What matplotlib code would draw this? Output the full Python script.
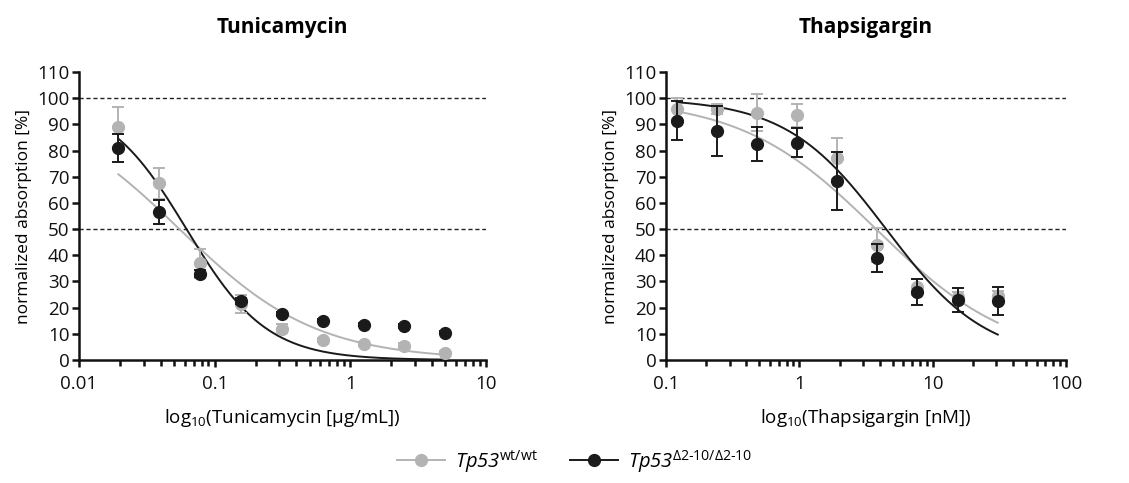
import matplotlib

matplotlib.use("Agg")
import matplotlib.pyplot as plt
import numpy as np
from matplotlib.lines import Line2D
from matplotlib.ticker import FixedLocator, LogLocator, NullFormatter

plt.rcParams["font.family"] = ["Open Sans", "DejaVu Sans"]
plt.rcParams["mathtext.fontset"] = "custom"
plt.rcParams["mathtext.rm"] = "Open Sans"
plt.rcParams["mathtext.it"] = "Open Sans:italic"
plt.rcParams["mathtext.sf"] = "Open Sans:italic"

GRAY = "#b3b3b3"
BLACK = "#1a1a1a"

# Tunicamycin [ug/mL]
tun_x = [0.0195, 0.039, 0.078, 0.156, 0.3125, 0.625, 1.25, 2.5, 5.0]
tun_wt = [89.0, 67.5, 37.0, 21.5, 12.0, 7.5, 6.0, 5.5, 2.8]
tun_wt_err = [7.5, 6.0, 5.5, 3.5, 1.8, 0.8, 0.8, 0.8, 0.5]
tun_dl = [81.0, 56.5, 33.0, 22.5, 17.5, 15.0, 13.5, 13.0, 10.5]
tun_dl_err = [5.5, 4.5, 1.2, 1.0, 0.8, 0.6, 0.6, 0.6, 0.6]
tun_fit_wt = (0.055, 0.862)   # IC50, hill slope
tun_fit_dl = (0.062, 1.47)

# Thapsigargin [nM]
tha_x = [0.12, 0.24, 0.48, 0.96, 1.92, 3.84, 7.68, 15.36, 30.72]
tha_wt = [96.0, 96.0, 94.5, 93.5, 77.0, 44.0, 28.0, 24.0, 24.5]
tha_wt_err = [4.0, 2.0, 7.0, 4.5, 8.0, 6.5, 3.0, 2.0, 2.0]
tha_dl = [91.5, 87.5, 82.5, 83.0, 68.5, 39.0, 26.0, 23.0, 22.5]
tha_dl_err = [7.5, 9.5, 6.5, 5.5, 11.0, 5.5, 5.0, 4.5, 5.5]
tha_fit_wt = (3.76, 0.855)
tha_fit_dl = (4.47, 1.157)

yticks = list(range(0, 111, 10))


def hill(x, ic50, slope):
    return 100.0 / (1.0 + (x / ic50) ** slope)


def panel(ax, x, wt, wt_err, dl, dl_err, fit_wt, fit_dl, xlim, xticks, xticklabels, title, xlabel):
    ax.axhline(100, color="#222222", linestyle=(0, (3, 2)), linewidth=1.0, zorder=1)
    ax.axhline(50, color="#222222", linestyle=(0, (3, 2)), linewidth=1.0, zorder=1)
    xs = np.logspace(np.log10(x[0]), np.log10(x[-1]), 300)
    ax.plot(xs, hill(xs, *fit_wt), color=GRAY, linewidth=1.4, zorder=2)
    ax.plot(xs, hill(xs, *fit_dl), color=BLACK, linewidth=1.4, zorder=3)
    ax.errorbar(x, wt, yerr=wt_err, fmt="o", color=GRAY, ecolor=GRAY, markersize=8.5,
                capsize=4, elinewidth=1.4, capthick=1.4, zorder=4)
    ax.errorbar(x, dl, yerr=dl_err, fmt="o", color=BLACK, ecolor=BLACK, markersize=8.5,
                capsize=4, elinewidth=1.4, capthick=1.4, zorder=5)
    ax.set_xscale("log")
    ax.set_xlim(*xlim)
    ax.set_ylim(0, 110)
    ax.yaxis.set_major_locator(FixedLocator(yticks))
    ax.xaxis.set_major_locator(FixedLocator(xticks))
    ax.set_xticklabels(xticklabels)
    ax.xaxis.set_minor_locator(LogLocator(base=10, subs=np.arange(2, 10)))
    ax.xaxis.set_minor_formatter(NullFormatter())
    for side in ["top", "right"]:
        ax.spines[side].set_visible(False)
    for side in ["left", "bottom"]:
        ax.spines[side].set_linewidth(1.8)
        ax.spines[side].set_color("#111111")
    ax.tick_params(axis="both", which="major", direction="out", length=5, width=1.8,
                   labelsize=13.5, colors="#111111", pad=2)
    ax.tick_params(axis="x", which="major", pad=6)
    ax.tick_params(axis="x", which="minor", direction="out", length=4, width=1.8, colors="#111111")
    ax.set_title(title, fontsize=15, fontweight="bold", pad=28)
    ax.set_xlabel(xlabel, fontsize=13.5, labelpad=10)
    ax.set_ylabel("normalized absorption [%]", fontsize=12.5, labelpad=4)


fig = plt.figure(figsize=(11.29, 4.83), dpi=100)
ax1 = fig.add_axes([0.070, 0.2547, 0.3605, 0.596])
ax2 = fig.add_axes([0.590, 0.2547, 0.3543, 0.596])

panel(ax1, tun_x, tun_wt, tun_wt_err, tun_dl, tun_dl_err, tun_fit_wt, tun_fit_dl,
      (0.01, 10), [0.01, 0.1, 1, 10], ["0.01", "0.1", "1", "10"],
      "Tunicamycin", r"log$_{10}$(Tunicamycin [µg/mL])")
panel(ax2, tha_x, tha_wt, tha_wt_err, tha_dl, tha_dl_err, tha_fit_wt, tha_fit_dl,
      (0.1, 100), [0.1, 1, 10, 100], ["0.1", "1", "10", "100"],
      "Thapsigargin", r"log$_{10}$(Thapsigargin [nM])")

handles = [
    Line2D([0], [0], color=GRAY, marker="o", markersize=8.5, linewidth=1.4),
    Line2D([0], [0], color=BLACK, marker="o", markersize=8.5, linewidth=1.4),
]
labels = [r"$\mathsf{Tp53}^{\mathrm{wt/wt}}$", r"$\mathsf{Tp53}^{\mathrm{\Delta 2\text{-}10/\Delta 2\text{-}10}}$"]
fig.legend(handles, labels, loc="center", bbox_to_anchor=(0.509, 0.045), ncol=2, frameon=False,
           fontsize=14.5, handlelength=2.4, columnspacing=1.6, handletextpad=0.5)

fig.savefig("out.png", dpi=100)
